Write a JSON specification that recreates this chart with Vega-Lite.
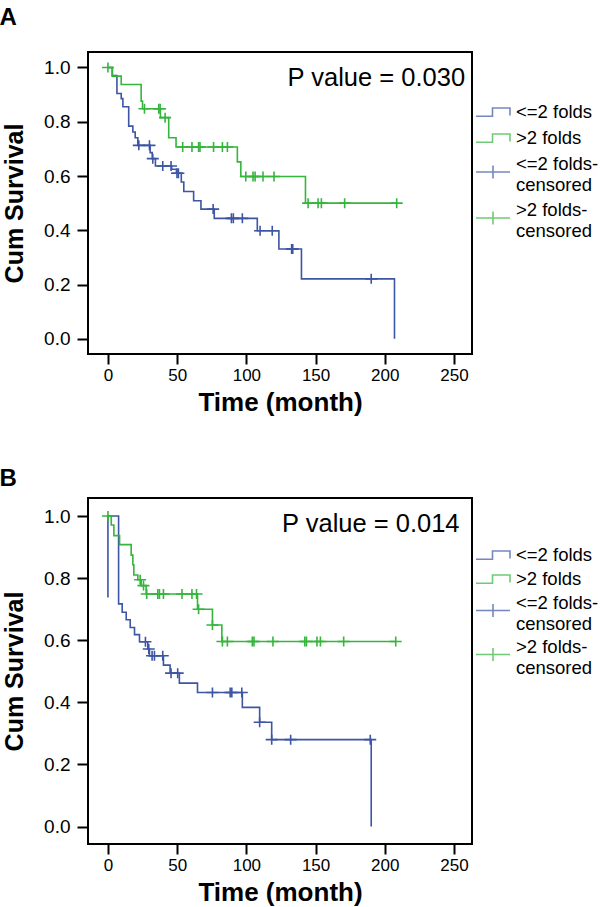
{
  "$schema": "https://vega.github.io/schema/vega-lite/v6.json",
  "background": "white",
  "padding": {"left": -2, "top": 5, "right": 0, "bottom": 0},
  "spacing": 50,
  "config": {
    "font": "Liberation Sans",
    "view": {"stroke": "#000", "strokeWidth": 2},
    "axis": {
      "grid": false, "domain": false, "tickColor": "#000", "tickWidth": 2, "tickSize": 10,
      "labelColor": "#000", "labelFont": "Liberation Sans", "labelFontSize": 17,
      "titleFont": "Liberation Sans", "titleFontSize": 26, "titleFontWeight": "bold", "titleColor": "#000"
    },
    "axisY": {"labelPadding": 7, "tickSize": 11, "labelFontSize": 19, "titlePadding": 16, "titleFontSize": 25},
    "axisX": {"labelPadding": 3, "titlePadding": 6},
    "title": {"fontSize": 24, "fontWeight": "bold", "anchor": "start", "color": "#000", "font": "Liberation Sans", "dx": -3},
    "legend": {
      "orient": "none", "legendX": 394, "legendY": 49, "padding": 0, "title": null,
      "labelFont": "Liberation Sans", "labelFontSize": 18.5, "labelColor": "#000", "labelLimit": 0,
      "labelOffset": 12, "rowPadding": 5, "symbolSize": 400, "symbolStrokeWidth": 1.6,
      "symbolFillColor": "transparent", "labelLineHeight": 16
    }
  },
  "datasets": {
    "curveA": [
      {"grp": "<=2 folds", "k": 0, "t": 0, "s": 1.0},
      {"grp": "<=2 folds", "k": 1, "t": 3.2, "s": 0.97},
      {"grp": "<=2 folds", "k": 2, "t": 6.5, "s": 0.904},
      {"grp": "<=2 folds", "k": 3, "t": 9.6, "s": 0.885},
      {"grp": "<=2 folds", "k": 4, "t": 10.8, "s": 0.855},
      {"grp": "<=2 folds", "k": 5, "t": 15, "s": 0.784},
      {"grp": "<=2 folds", "k": 6, "t": 18, "s": 0.762},
      {"grp": "<=2 folds", "k": 7, "t": 19.7, "s": 0.741},
      {"grp": "<=2 folds", "k": 8, "t": 21.6, "s": 0.713},
      {"grp": "<=2 folds", "k": 9, "t": 30.5, "s": 0.686},
      {"grp": "<=2 folds", "k": 10, "t": 32, "s": 0.664},
      {"grp": "<=2 folds", "k": 11, "t": 34.3, "s": 0.637},
      {"grp": "<=2 folds", "k": 12, "t": 46, "s": 0.625},
      {"grp": "<=2 folds", "k": 13, "t": 49.5, "s": 0.61},
      {"grp": "<=2 folds", "k": 14, "t": 53, "s": 0.578},
      {"grp": "<=2 folds", "k": 15, "t": 54.8, "s": 0.543},
      {"grp": "<=2 folds", "k": 16, "t": 61.9, "s": 0.509},
      {"grp": "<=2 folds", "k": 17, "t": 67.2, "s": 0.478},
      {"grp": "<=2 folds", "k": 18, "t": 76.8, "s": 0.444},
      {"grp": "<=2 folds", "k": 19, "t": 107.9, "s": 0.398},
      {"grp": "<=2 folds", "k": 20, "t": 123.5, "s": 0.331},
      {"grp": "<=2 folds", "k": 21, "t": 139.8, "s": 0.221},
      {"grp": "<=2 folds", "k": 22, "t": 207, "s": 0.221},
      {"grp": "<=2 folds", "k": 23, "t": 207, "s": 0.0},
      {"grp": ">2 folds", "k": 0, "t": 0, "s": 1.0},
      {"grp": ">2 folds", "k": 1, "t": 3.1, "s": 0.968},
      {"grp": ">2 folds", "k": 2, "t": 9.6, "s": 0.9375},
      {"grp": ">2 folds", "k": 3, "t": 24, "s": 0.876},
      {"grp": ">2 folds", "k": 4, "t": 25, "s": 0.848},
      {"grp": ">2 folds", "k": 5, "t": 37.9, "s": 0.815},
      {"grp": ">2 folds", "k": 6, "t": 43.9, "s": 0.741},
      {"grp": ">2 folds", "k": 7, "t": 49.2, "s": 0.707},
      {"grp": ">2 folds", "k": 8, "t": 93.5, "s": 0.652},
      {"grp": ">2 folds", "k": 9, "t": 96, "s": 0.598},
      {"grp": ">2 folds", "k": 10, "t": 142.7, "s": 0.5},
      {"grp": ">2 folds", "k": 11, "t": 208.6, "s": 0.5}
    ],
    "censA": [
      {"grp": "<=2 folds", "t": 22.3, "s": 0.713},
      {"grp": "<=2 folds", "t": 30, "s": 0.713},
      {"grp": "<=2 folds", "t": 32.4, "s": 0.664},
      {"grp": "<=2 folds", "t": 39.6, "s": 0.637},
      {"grp": "<=2 folds", "t": 45.6, "s": 0.637},
      {"grp": "<=2 folds", "t": 49.9, "s": 0.61},
      {"grp": "<=2 folds", "t": 50.9, "s": 0.61},
      {"grp": "<=2 folds", "t": 76, "s": 0.478},
      {"grp": "<=2 folds", "t": 89.2, "s": 0.444},
      {"grp": "<=2 folds", "t": 90.6, "s": 0.444},
      {"grp": "<=2 folds", "t": 97.1, "s": 0.444},
      {"grp": "<=2 folds", "t": 109.9, "s": 0.398},
      {"grp": "<=2 folds", "t": 118.7, "s": 0.398},
      {"grp": "<=2 folds", "t": 132.7, "s": 0.331},
      {"grp": "<=2 folds", "t": 133.5, "s": 0.331},
      {"grp": "<=2 folds", "t": 190.2, "s": 0.221},
      {"grp": ">2 folds", "t": 0, "s": 1.0},
      {"grp": ">2 folds", "t": 26.4, "s": 0.848},
      {"grp": ">2 folds", "t": 36.7, "s": 0.848},
      {"grp": ">2 folds", "t": 37.7, "s": 0.848},
      {"grp": ">2 folds", "t": 41.3, "s": 0.815},
      {"grp": ">2 folds", "t": 54, "s": 0.707},
      {"grp": ">2 folds", "t": 60.7, "s": 0.707},
      {"grp": ">2 folds", "t": 65.5, "s": 0.707},
      {"grp": ">2 folds", "t": 66.5, "s": 0.707},
      {"grp": ">2 folds", "t": 76.3, "s": 0.707},
      {"grp": ">2 folds", "t": 82.7, "s": 0.707},
      {"grp": ">2 folds", "t": 86.3, "s": 0.707},
      {"grp": ">2 folds", "t": 99.6, "s": 0.598},
      {"grp": ">2 folds", "t": 104.8, "s": 0.598},
      {"grp": ">2 folds", "t": 106.3, "s": 0.598},
      {"grp": ">2 folds", "t": 112, "s": 0.598},
      {"grp": ">2 folds", "t": 120, "s": 0.598},
      {"grp": ">2 folds", "t": 144.6, "s": 0.5},
      {"grp": ">2 folds", "t": 151.8, "s": 0.5},
      {"grp": ">2 folds", "t": 154.2, "s": 0.5},
      {"grp": ">2 folds", "t": 171, "s": 0.5},
      {"grp": ">2 folds", "t": 208.6, "s": 0.5}
    ],
    "curveB": [
      {"grp": "<=2 folds", "k": 0, "t": 0, "s": 0.738},
      {"grp": "<=2 folds", "k": 1, "t": 0, "s": 1.0},
      {"grp": "<=2 folds", "k": 2, "t": 7.7, "s": 0.717},
      {"grp": "<=2 folds", "k": 3, "t": 10.3, "s": 0.69},
      {"grp": "<=2 folds", "k": 4, "t": 13.2, "s": 0.666},
      {"grp": "<=2 folds", "k": 5, "t": 16.1, "s": 0.641},
      {"grp": "<=2 folds", "k": 6, "t": 19.2, "s": 0.618},
      {"grp": "<=2 folds", "k": 7, "t": 22.8, "s": 0.595},
      {"grp": "<=2 folds", "k": 8, "t": 28.8, "s": 0.572},
      {"grp": "<=2 folds", "k": 9, "t": 30, "s": 0.55},
      {"grp": "<=2 folds", "k": 10, "t": 40.1, "s": 0.52},
      {"grp": "<=2 folds", "k": 11, "t": 44.9, "s": 0.494},
      {"grp": "<=2 folds", "k": 12, "t": 51.6, "s": 0.462},
      {"grp": "<=2 folds", "k": 13, "t": 64.7, "s": 0.432},
      {"grp": "<=2 folds", "k": 14, "t": 97.1, "s": 0.384},
      {"grp": "<=2 folds", "k": 15, "t": 109.6, "s": 0.336},
      {"grp": "<=2 folds", "k": 16, "t": 118.3, "s": 0.28},
      {"grp": "<=2 folds", "k": 17, "t": 190.2, "s": 0.28},
      {"grp": "<=2 folds", "k": 18, "t": 190.2, "s": 0.0},
      {"grp": ">2 folds", "k": 0, "t": 0, "s": 1.0},
      {"grp": ">2 folds", "k": 1, "t": 2.4, "s": 0.971},
      {"grp": ">2 folds", "k": 2, "t": 4.3, "s": 0.937},
      {"grp": ">2 folds", "k": 3, "t": 8.4, "s": 0.908},
      {"grp": ">2 folds", "k": 4, "t": 16.8, "s": 0.874},
      {"grp": ">2 folds", "k": 5, "t": 18, "s": 0.843},
      {"grp": ">2 folds", "k": 6, "t": 18.7, "s": 0.81},
      {"grp": ">2 folds", "k": 7, "t": 21.6, "s": 0.795},
      {"grp": ">2 folds", "k": 8, "t": 24, "s": 0.776},
      {"grp": ">2 folds", "k": 9, "t": 27.6, "s": 0.749},
      {"grp": ">2 folds", "k": 10, "t": 64.7, "s": 0.7},
      {"grp": ">2 folds", "k": 11, "t": 75.5, "s": 0.649},
      {"grp": ">2 folds", "k": 12, "t": 82.3, "s": 0.596},
      {"grp": ">2 folds", "k": 13, "t": 207.9, "s": 0.596}
    ],
    "censB": [
      {"grp": "<=2 folds", "t": 27.1, "s": 0.595},
      {"grp": "<=2 folds", "t": 29.5, "s": 0.572},
      {"grp": "<=2 folds", "t": 31.9, "s": 0.55},
      {"grp": "<=2 folds", "t": 33.6, "s": 0.55},
      {"grp": "<=2 folds", "t": 39.6, "s": 0.55},
      {"grp": "<=2 folds", "t": 45.6, "s": 0.494},
      {"grp": "<=2 folds", "t": 50.4, "s": 0.494},
      {"grp": "<=2 folds", "t": 75.5, "s": 0.432},
      {"grp": "<=2 folds", "t": 88.3, "s": 0.432},
      {"grp": "<=2 folds", "t": 89.5, "s": 0.432},
      {"grp": "<=2 folds", "t": 96.7, "s": 0.432},
      {"grp": "<=2 folds", "t": 109.6, "s": 0.336},
      {"grp": "<=2 folds", "t": 118.3, "s": 0.28},
      {"grp": "<=2 folds", "t": 132, "s": 0.28},
      {"grp": "<=2 folds", "t": 189.5, "s": 0.28},
      {"grp": ">2 folds", "t": 0, "s": 1.0},
      {"grp": ">2 folds", "t": 23.3, "s": 0.795},
      {"grp": ">2 folds", "t": 25.7, "s": 0.776},
      {"grp": ">2 folds", "t": 28, "s": 0.749},
      {"grp": ">2 folds", "t": 36, "s": 0.749},
      {"grp": ">2 folds", "t": 37.2, "s": 0.749},
      {"grp": ">2 folds", "t": 40.1, "s": 0.749},
      {"grp": ">2 folds", "t": 53.5, "s": 0.749},
      {"grp": ">2 folds", "t": 60.7, "s": 0.749},
      {"grp": ">2 folds", "t": 64, "s": 0.749},
      {"grp": ">2 folds", "t": 65.5, "s": 0.7},
      {"grp": ">2 folds", "t": 75.5, "s": 0.649},
      {"grp": ">2 folds", "t": 82.7, "s": 0.596},
      {"grp": ">2 folds", "t": 86.3, "s": 0.596},
      {"grp": ">2 folds", "t": 104.3, "s": 0.596},
      {"grp": ">2 folds", "t": 105.5, "s": 0.596},
      {"grp": ">2 folds", "t": 119.2, "s": 0.596},
      {"grp": ">2 folds", "t": 142.2, "s": 0.596},
      {"grp": ">2 folds", "t": 143.4, "s": 0.596},
      {"grp": ">2 folds", "t": 151, "s": 0.596},
      {"grp": ">2 folds", "t": 153.5, "s": 0.596},
      {"grp": ">2 folds", "t": 170.3, "s": 0.596},
      {"grp": ">2 folds", "t": 207.9, "s": 0.596}
    ],
    "legendItems": [
      {"lab": "<=2 folds"}, {"lab": ">2 folds"}, {"lab": "<=2 folds-censored"}, {"lab": ">2 folds-censored"}
    ]
  },
  "resolve": {
    "scale": {"x": "independent", "y": "independent", "color": "independent", "shape": "independent", "stroke": "independent"},
    "legend": {"color": "independent", "shape": "independent"}
  },
  "vconcat": [
    {
      "title": {"text": "A", "offset": 22},
      "width": 384,
      "height": 302,
      "layer": [
        {
          "data": {"name": "curveA"},
          "mark": {"type": "line", "interpolate": "step-after", "strokeWidth": 1.6},
          "encoding": {
            "x": {"field": "t", "type": "quantitative", "scale": {"domain": [-14.4, 263], "nice": false, "zero": false},
                  "axis": {"values": [0, 50, 100, 150, 200, 250], "title": "Time (month)"}},
            "y": {"field": "s", "type": "quantitative", "scale": {"domain": [-0.056, 1.057], "nice": false, "zero": false},
                  "axis": {"values": [0, 0.2, 0.4, 0.6, 0.8, 1.0], "format": ".1f", "title": "Cum Survival"}},
            "stroke": {"field": "grp", "type": "nominal", "scale": {"domain": ["<=2 folds", ">2 folds"], "range": ["#3c55a5", "#35b53c"]}, "legend": null},
            "order": {"field": "k", "type": "quantitative"}
          }
        },
        {
          "data": {"name": "censA"},
          "mark": {"type": "point", "filled": false, "shape": "M-0.6,0H0.6M0,-0.5V0.5", "size": 400, "strokeWidth": 1.6, "opacity": 1},
          "encoding": {
            "x": {"field": "t", "type": "quantitative"},
            "y": {"field": "s", "type": "quantitative"},
            "stroke": {"field": "grp", "type": "nominal", "legend": null}
          }
        },
        {
          "data": {"name": "legendItems"},
          "transform": [{"filter": "false"}],
          "mark": {"type": "point", "filled": false},
          "encoding": {
            "color": {
              "field": "lab", "type": "nominal",
              "scale": {"domain": ["<=2 folds", ">2 folds", "<=2 folds-censored", ">2 folds-censored"], "range": ["#3c55a5", "#35b53c", "#3c55a5", "#35b53c"]},
              "legend": {
                "labelExpr": "indexof(datum.label, '-censored') > 0 ? [replace(datum.label, 'censored', ''), 'censored'] : datum.label"
              }
            },
            "shape": {
              "field": "lab", "type": "nominal",
              "scale": {"domain": ["<=2 folds", ">2 folds", "<=2 folds-censored", ">2 folds-censored"],
                        "range": ["M-1.7,0.42H-0.05V-0.4H1.7V0.35", "M-1.7,0.42H-0.05V-0.4H1.7V0.35", "M-1.7,0.8H1.7M0,0.15V1.45", "M-1.7,0.8H1.7M0,0.15V1.45"]},
              "legend": {
                "labelExpr": "indexof(datum.label, '-censored') > 0 ? [replace(datum.label, 'censored', ''), 'censored'] : datum.label"
              }
            }
          }
        },
        {
          "data": {"values": [{"label": "P value = 0.030"}]},
          "mark": {"type": "text", "align": "right", "baseline": "alphabetic", "fontSize": 25.5, "font": "Liberation Sans", "color": "#000"},
          "encoding": {
            "text": {"field": "label"},
            "x": {"datum": 258},
            "y": {"datum": 0.931}
          }
        }
      ]
    },
    {
      "title": {"text": "B", "offset": 7},
      "width": 384,
      "height": 346,
      "layer": [
        {
          "data": {"name": "curveB"},
          "mark": {"type": "line", "interpolate": "step-after", "strokeWidth": 1.6},
          "encoding": {
            "x": {"field": "t", "type": "quantitative", "scale": {"domain": [-14.4, 263], "nice": false, "zero": false},
                  "axis": {"values": [0, 50, 100, 150, 200, 250], "title": "Time (month)"}},
            "y": {"field": "s", "type": "quantitative", "scale": {"domain": [-0.056, 1.058], "nice": false, "zero": false},
                  "axis": {"values": [0, 0.2, 0.4, 0.6, 0.8, 1.0], "format": ".1f", "title": "Cum Survival"}},
            "stroke": {"field": "grp", "type": "nominal", "scale": {"domain": ["<=2 folds", ">2 folds"], "range": ["#3c55a5", "#35b53c"]}, "legend": null},
            "order": {"field": "k", "type": "quantitative"}
          }
        },
        {
          "data": {"name": "censB"},
          "mark": {"type": "point", "filled": false, "shape": "M-0.6,0H0.6M0,-0.5V0.5", "size": 400, "strokeWidth": 1.6, "opacity": 1},
          "encoding": {
            "x": {"field": "t", "type": "quantitative"},
            "y": {"field": "s", "type": "quantitative"},
            "stroke": {"field": "grp", "type": "nominal", "legend": null}
          }
        },
        {
          "data": {"name": "legendItems"},
          "transform": [{"filter": "false"}],
          "mark": {"type": "point", "filled": false},
          "encoding": {
            "color": {
              "field": "lab", "type": "nominal",
              "scale": {"domain": ["<=2 folds", ">2 folds", "<=2 folds-censored", ">2 folds-censored"], "range": ["#3c55a5", "#35b53c", "#3c55a5", "#35b53c"]},
              "legend": {
                "legendY": 46, "rowPadding": 3, "labelLineHeight": 15,
                "labelExpr": "indexof(datum.label, '-censored') > 0 ? [replace(datum.label, 'censored', ''), 'censored'] : datum.label"
              }
            },
            "shape": {
              "field": "lab", "type": "nominal",
              "scale": {"domain": ["<=2 folds", ">2 folds", "<=2 folds-censored", ">2 folds-censored"],
                        "range": ["M-1.7,0.42H-0.05V-0.4H1.7V0.35", "M-1.7,0.42H-0.05V-0.4H1.7V0.35", "M-1.7,0.75H1.7M0,0.1V1.4", "M-1.7,0.75H1.7M0,0.1V1.4"]},
              "legend": {
                "legendY": 46, "rowPadding": 3, "labelLineHeight": 15,
                "labelExpr": "indexof(datum.label, '-censored') > 0 ? [replace(datum.label, 'censored', ''), 'censored'] : datum.label"
              }
            }
          }
        },
        {
          "data": {"values": [{"label": "P value = 0.014"}]},
          "mark": {"type": "text", "align": "right", "baseline": "alphabetic", "fontSize": 25.5, "font": "Liberation Sans", "color": "#000"},
          "encoding": {
            "text": {"field": "label"},
            "x": {"datum": 254},
            "y": {"datum": 0.949}
          }
        }
      ]
    }
  ]
}
